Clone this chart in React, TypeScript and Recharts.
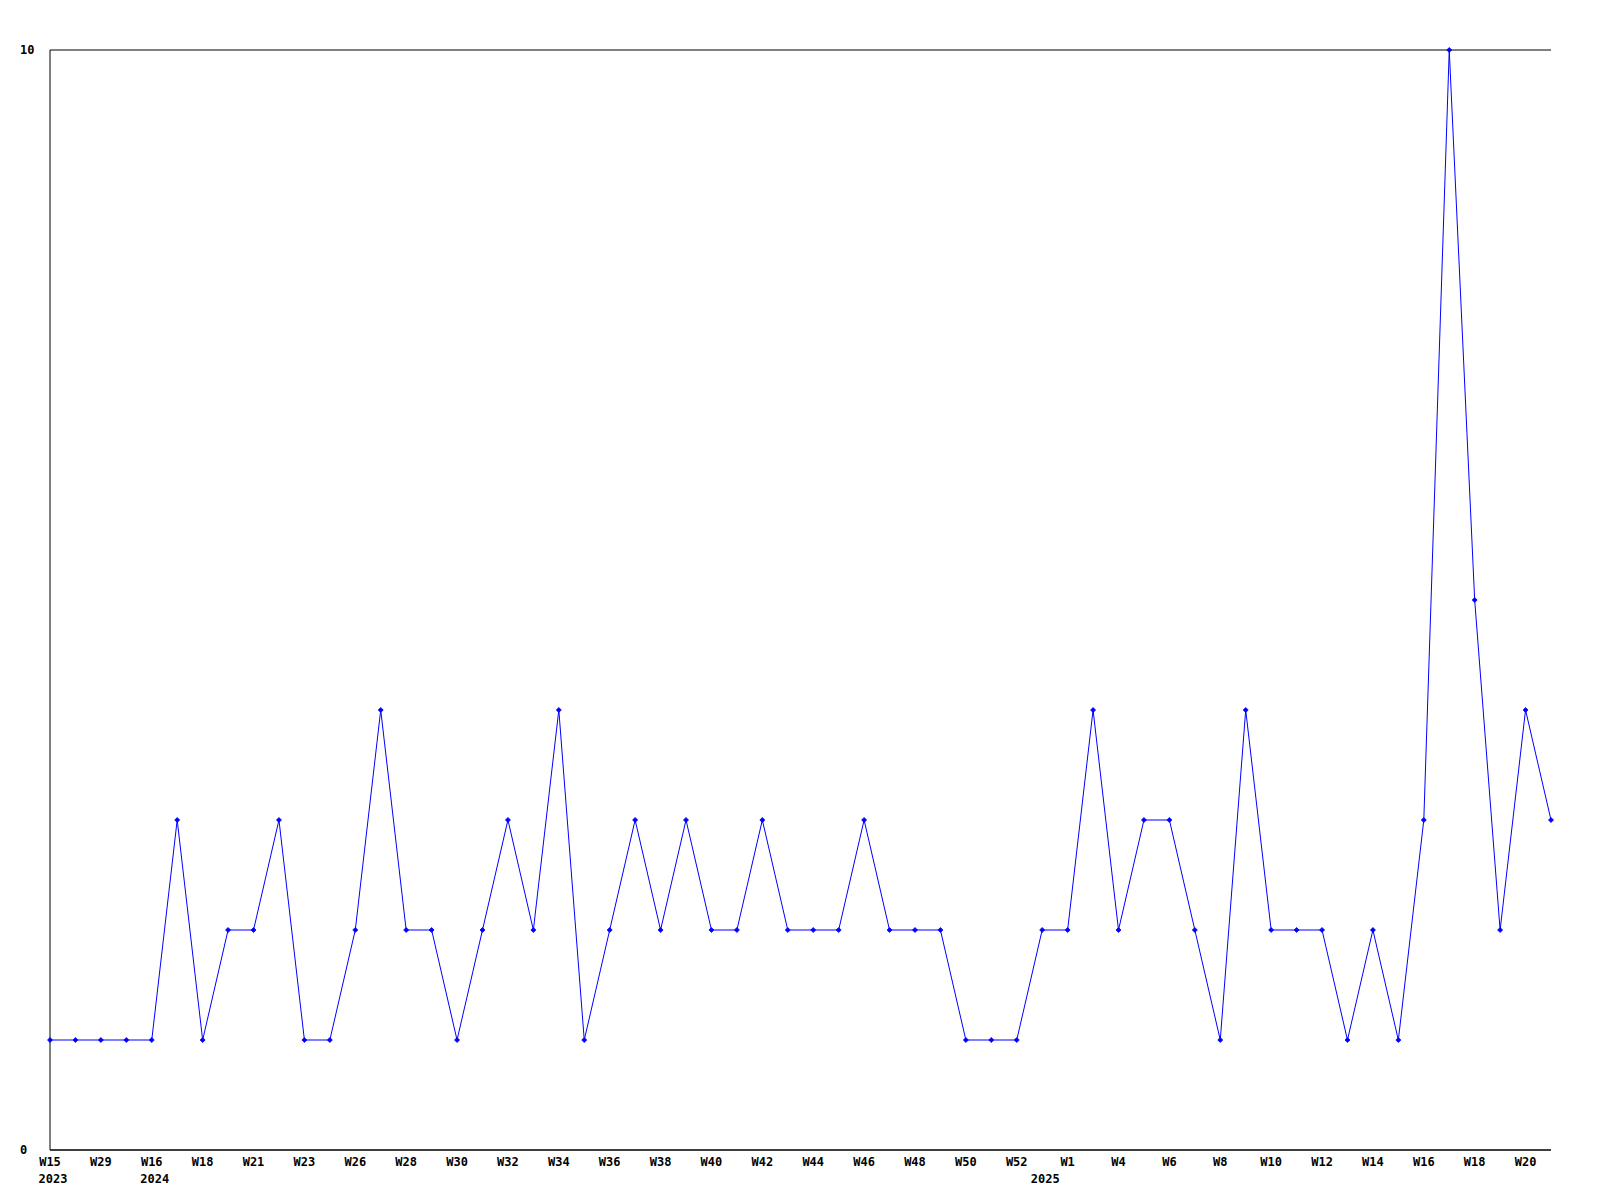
import React from 'react';
import { LineChart, Line, XAxis, YAxis, CartesianGrid } from 'recharts';

const weeks = [
  'W15', 'W22', 'W29', 'W40', 'W16', 'W17', 'W18', 'W20', 'W21', 'W22',
  'W23', 'W25', 'W26', 'W27', 'W28', 'W29', 'W30', 'W31', 'W32', 'W33',
  'W34', 'W35', 'W36', 'W37', 'W38', 'W39', 'W40', 'W41', 'W42', 'W43',
  'W44', 'W45', 'W46', 'W47', 'W48', 'W49', 'W50', 'W51', 'W52', 'W53',
  'W1', 'W3', 'W4', 'W5', 'W6', 'W7', 'W8', 'W9', 'W10', 'W11',
  'W12', 'W13', 'W14', 'W15', 'W16', 'W17', 'W18', 'W19', 'W20', 'W21',
];

const years = [
  '2023', '', '', '', '2024', '', '', '', '', '',
  '', '', '', '', '', '', '', '', '', '',
  '', '', '', '', '', '', '', '', '', '',
  '', '', '', '', '', '', '', '', '', '2025',
  '', '', '', '', '', '', '', '', '', '',
  '', '', '', '', '', '', '', '', '', '',
];

const counts = [
  1, 1, 1, 1, 1, 3, 1, 2, 2, 3,
  1, 1, 2, 4, 2, 2, 1, 2, 3, 2,
  4, 1, 2, 3, 2, 3, 2, 2, 3, 2,
  2, 2, 3, 2, 2, 2, 1, 1, 1, 2,
  2, 4, 2, 3, 3, 2, 1, 4, 2, 2,
  2, 1, 2, 1, 3, 10, 5, 2, 4, 3,
];

const yTicks = [0, 10];

const data = counts.map((value, i) => ({ key: i, week: weeks[i], year: years[i], value }));

const FONT = '"DejaVu Sans Mono", monospace';

function WeekTick(props: any) {
  const { x, y, index } = props;
  const week = weeks[index];
  const year = years[index];
  return (
    <g>
      {index % 2 === 0 && (
        <text x={x} y={y + 16} textAnchor="middle" fontFamily={FONT} fontWeight="bold" fontSize={12} fill="#000">
          {week}
        </text>
      )}
      {year && (
        <text x={x + 3} y={y + 33} textAnchor="middle" fontFamily={FONT} fontWeight="bold" fontSize={12} fill="#000">
          {year}
        </text>
      )}
    </g>
  );
}

function ValueTick(props: any) {
  const { y, payload } = props;
  return (
    <text x={12} y={y + 4} textAnchor="start" fontFamily={FONT} fontWeight="bold" fontSize={12} fill="#000">
      {payload.value}
    </text>
  );
}

function Diamond(props: any) {
  const { cx, cy, index } = props;
  if (cx == null || cy == null) return <g key={index} />;
  return (
    <path
      key={index}
      d={`M${cx},${cy - 2.5} L${cx + 2.5},${cy} L${cx},${cy + 2.5} L${cx - 2.5},${cy} Z`}
      fill="#0000ff"
      stroke="#0000ff"
      strokeWidth={0.8}
    />
  );
}

export default function App() {
  return (
    <div style={{ width: 1584, height: 1184, background: '#fff' }}>
      <LineChart
        width={1584}
        height={1184}
        data={data}
        margin={{ top: 42, right: 41, left: 0, bottom: 2 }}
      >
        <CartesianGrid vertical={false} stroke="#000" strokeWidth={1} />
        <XAxis
          dataKey="key"
          interval={0}
          tick={<WeekTick />}
          tickLine={false}
          tickSize={0}
          tickMargin={0}
          height={40}
          axisLine={{ stroke: '#000', strokeWidth: 1 }}
        />
        <YAxis
          domain={[0, 10]}
          ticks={yTicks}
          width={42}
          tick={<ValueTick />}
          tickLine={false}
          axisLine={{ stroke: '#000', strokeWidth: 1 }}
        />
        <Line
          type="linear"
          dataKey="value"
          stroke="#0000ff"
          strokeWidth={1}
          dot={<Diamond />}
          activeDot={false}
          isAnimationActive={false}
        />
      </LineChart>
    </div>
  );
}
